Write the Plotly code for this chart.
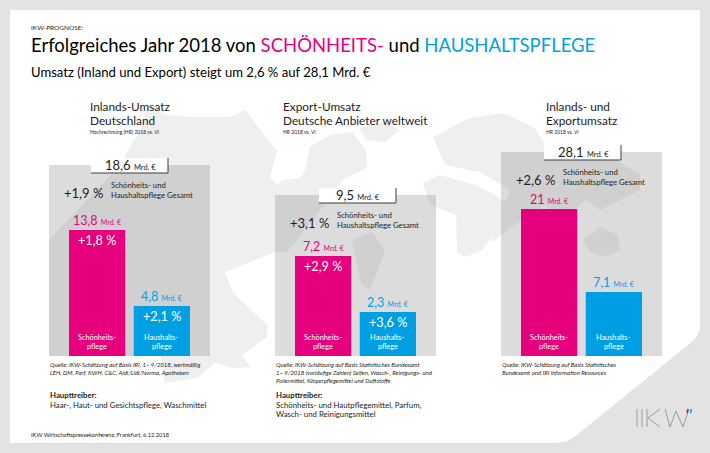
import plotly.graph_objects as go

W, H = 710, 453

PINK = "#e6007e"
BLUE = "#009fe3"

# chart values
categories = [["Schönheits-", "pflege"], ["Haushalts-", "pflege"]]
panel_titles = [["Inlands-Umsatz", "Deutschland"], ["Export-Umsatz", "Deutsche Anbieter weltweit"], ["Inlands- und", "Exportumsatz"]]
panel_notes = ["Hochrechnung (HR) 2018 vs. VI", "HR 2018 vs. VI", "HR 2018 vs. VI"]
totals = ["18,6", "9,5", "28,1"]
total_growth = ["+1,9 %", "+3,1 %", "+2,6 %"]
beauty_values = [13.8, 7.2, 21.0]
household_values = [4.8, 2.3, 7.1]
beauty_labels = ["13,8", "7,2", "21"]
household_labels = ["4,8", "2,3", "7,1"]
beauty_growth = ["+1,8 %", "+2,9 %", ""]
household_growth = ["+2,1 %", "+3,6 %", ""]
sources = [
    ["Quelle: IKW-Schätzung auf Basis IRI, 1– 9/2018, wertmäßig", "LEH, DM, Parf, KWH, C&C, Aldi/Lidl/Norma, Apotheken"],
    ["Quelle: IKW-Schätzung auf Basis Statistisches Bundesamt", "1– 9/2018 (vorläufige Zahlen) Seifen, Wasch-, Reinigungs- und",
     "Poliermittel, Körperpflegemittel und Duftstoffe"],
    ["Quelle: IKW-Schätzung auf Basis Statistisches", "Bundesamt und IRI Information Resources"],
]
drivers = [
    ["Haar-, Haut- und Gesichtspflege, Waschmittel"],
    ["Schönheits- und Hautpflegemittel, Parfum,", "Wasch- und Reinigungsmittel"],
    [],
]

# layout of the three panels in pixels
panel_left = [49, 275, 501]
panel_top = [165, 195, 152]
panel_bottom = 356
beauty_top = [230, 256, 209]
household_top = [306, 312, 292]
box_left = [91, 319, 544]
head_left = [89, 282, 545]


def px(x):
    return x / W


def py(y):
    return 1 - y / H


def path(points):
    return "M " + " L ".join(f"{px(x):.4f},{py(y):.4f}" for x, y in points) + " Z"


def rect(x0, y0, x1, y1, color, layer="below"):
    return dict(type="rect", xref="paper", yref="paper", x0=px(x0), x1=px(x1), y0=py(y1), y1=py(y0),
                fillcolor=color, line_width=0, layer=layer)


def text(x, y, s, size, color="#1d1d1b", anchor="left"):
    fig.add_annotation(xref="paper", yref="paper", x=px(x), y=py(y), text=s, showarrow=False,
                       xanchor=anchor, yanchor="middle", align=anchor, font=dict(size=size, color=color),
                       borderpad=0)


def lines(x, y, rows, step, size, color="#1d1d1b", anchor="left", style="{}"):
    for n, row in enumerate(rows):
        text(x, y + n * step, style.format(row), size, color, anchor)


fig = go.Figure()
shapes = []

# page: grey frame, white sheet with cut corner
sheet = [(10, 10), (700, 10), (700, 328), (696, 338), (688, 345), (578, 434), (568, 441), (558, 443), (10, 443)]
shapes.append(dict(type="path", xref="paper", yref="paper", path=path(sheet), fillcolor="white", line_width=0, layer="below"))

# world map in the background
map_color = "#efefef"
world = [
    # north and middle america
    [(49, 356), (49, 240), (120, 165), (140, 130), (148, 104), (165, 115), (190, 117), (230, 117), (245, 110), (268, 140),
     (277, 150), (270, 177), (277, 185), (283, 180), (300, 178), (305, 170), (310, 147), (330, 135), (352, 132),
     (366, 150), (367, 168), (345, 178), (335, 190), (320, 210), (297, 240), (287, 252), (275, 252), (225, 272),
     (233, 293), (267, 325), (267, 337), (242, 355), (250, 367), (232, 368), (215, 363), (197, 378), (165, 383),
     (160, 356)],
    # south america
    [(352, 240), (372, 232), (385, 250), (378, 270), (370, 290), (362, 285), (356, 262)],
    # africa
    [(423, 183), (440, 175), (475, 185), (495, 195), (510, 205), (498, 228), (482, 250), (466, 257), (457, 253),
     (456, 215), (430, 205)],
    # eurasia
    [(433, 137), (470, 118), (503, 113), (535, 128), (548, 150), (600, 150), (640, 175), (640, 190), (600, 210),
     (585, 200), (565, 220), (545, 205), (515, 225), (490, 243), (510, 190), (480, 172), (445, 165)],
    # australia
    [(583, 240), (600, 227), (618, 235), (620, 250), (605, 257), (590, 252)],
    # madagascar
    [(496, 228), (500, 225), (499, 236), (494, 242)],
    # greenland
    [(360, 128), (385, 122), (400, 130), (385, 142), (366, 140)],
]
for poly in world:
    shapes.append(dict(type="path", xref="paper", yref="paper", path=path(poly), fillcolor=map_color, line_width=0, layer="below"))

axis_no = 1
for i in range(3):
    left = panel_left[i]
    # grey panel
    shapes.append(rect(left, panel_top[i], left + 161, panel_bottom, "rgba(128,128,128,0.28)"))
    # white total box with dark edge
    bx = box_left[i]
    by = panel_top[i] - 7
    shapes.append(rect(bx, by, bx + 77, by + 15, "white"))
    shapes.append(dict(type="path", xref="paper", yref="paper", line=dict(color="#3c3c3c", width=1), layer="below",
                       path=f"M {px(bx)},{py(by + 15)} L {px(bx + 77)},{py(by + 15)} L {px(bx + 77)},{py(by)}"))

    # bars, each one on its own scale like in the original slide
    for j, (val, top, col) in enumerate([(beauty_values[i], beauty_top[i], PINK),
                                         (household_values[i], household_top[i], BLUE)]):
        x0 = left + 20 + j * 64.5
        xn = "x" if axis_no == 1 else f"x{axis_no}"
        yn = "y" if axis_no == 1 else f"y{axis_no}"
        fig.add_trace(go.Bar(x=[categories[j][0]], y=[val], width=1, marker=dict(color=col, line_width=0),
                             xaxis=xn, yaxis=yn, showlegend=False, hoverinfo="x+y"))
        fig.update_layout({
            ("xaxis" if axis_no == 1 else f"xaxis{axis_no}"): dict(domain=[px(x0), px(x0 + 56.5)], visible=False, range=[-0.5, 0.5],
                                                                    anchor=yn, fixedrange=True),
            ("yaxis" if axis_no == 1 else f"yaxis{axis_no}"): dict(domain=[py(panel_bottom), py(top)], visible=False, range=[0, val],
                                                                    anchor=xn, fixedrange=True),
        })
        axis_no += 1

        cx = x0 + 28
        label = beauty_labels[i] if j == 0 else household_labels[i]
        growth = beauty_growth[i] if j == 0 else household_growth[i]
        text(cx, top - 10, f"{label} <span style='font-size:7px'>Mrd. €</span>", 12.5, col, "center")
        if growth:
            text(cx, top + 10, growth, 12.7, "white", "center")
        lines(cx, 337.6, categories[j], 8.8, 7.3, "white", "center")

    # texts of the panel
    lines(head_left[i], 106.4, panel_titles[i], 14.3, 11.8)
    text(head_left[i], 132, panel_notes[i], 5)
    text(bx + 39, by + 7, f"{totals[i]} <span style='font-size:7.5px'>Mrd. €</span>", 13, "#1d1d1b", "center")
    text(left + 14, panel_top[i] + 28, total_growth[i], 13)
    lines(left + 61, panel_top[i] + 20.4, ["Schönheits- und", "Haushaltspflege Gesamt"], 9.3, 7.7)
    lines(left, 364, sources[i], 8, 6, style="<i>{}</i>")
    if drivers[i]:
        text(left, 395, "<b>Haupttreiber:</b>", 7.8)
        lines(left, 405, drivers[i], 9.4, 7.8)

# heading
text(30, 28, "IKW-PROGNOSE:", 6.5)
text(30, 45, f"Erfolgreiches Jahr 2018 von <span style='color:{PINK}'>SCHÖNHEITS-</span> und "
             f"<span style='color:{BLUE}'>HAUSHALTSPFLEGE</span>", 18.5, "#000000")
text(30, 72, "Umsatz (Inland und Export) steigt um 2,6 % auf 28,1 Mrd. €", 13.1, "#000000")
text(30, 434, "IKW Wirtschaftspressekonferenz, Frankfurt, 6.12.2018", 5.75)

# logo
for seg in [((637, 409), (637, 427)), ((642, 409), (642, 427)), ((647, 409), (647, 427)), ((660, 409), (648, 418)),
            ((648, 418), (660, 427)), ((665, 409), (670, 427)), ((670, 427), (676, 411)), ((676, 411), (683, 427)),
            ((683, 427), (689, 409))]:
    shapes.append(dict(type="line", xref="paper", yref="paper", x0=px(seg[0][0]), y0=py(seg[0][1]),
                       x1=px(seg[1][0]), y1=py(seg[1][1]), line=dict(color="#9d9d9c", width=1)))
shapes.append(dict(type="line", xref="paper", yref="paper", x0=px(687), y0=py(413), x1=px(688), y1=py(409), line=dict(color=PINK, width=1.5)))
shapes.append(dict(type="line", xref="paper", yref="paper", x0=px(690.5), y0=py(413), x1=px(691.5), y1=py(409), line=dict(color=BLUE, width=1.5)))

fig.update_layout(
    width=W, height=H, margin=dict(l=0, r=0, t=0, b=0, pad=0),
    paper_bgcolor="#e3e3e3", plot_bgcolor="rgba(0,0,0,0)",
    font=dict(family="Lato, Carlito, sans-serif"),
    shapes=shapes, showlegend=False,
)

fig.write_html("out.html", config=dict(displayModeBar=False),
               post_script="document.body.style.margin='0';document.body.style.overflow='hidden';")
